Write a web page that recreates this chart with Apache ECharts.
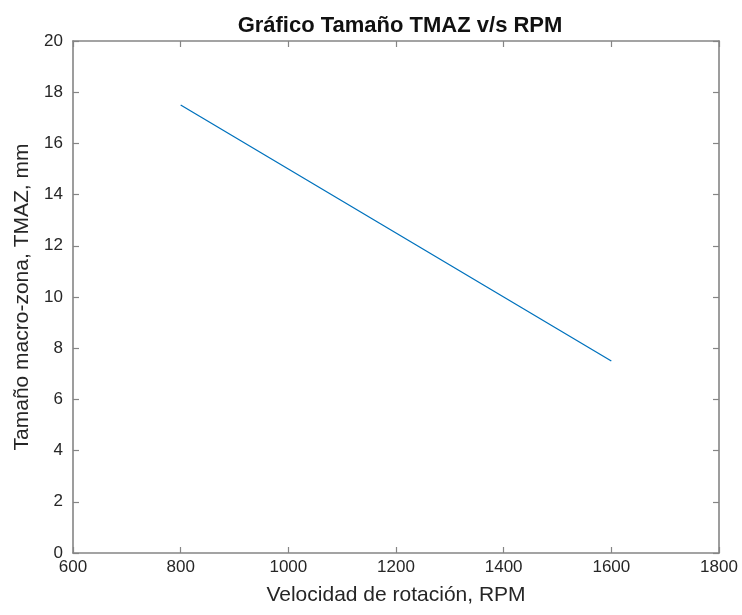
<!DOCTYPE html>
<html><head><meta charset="utf-8">
<script src="https://cdn.jsdelivr.net/npm/echarts@6/dist/echarts.min.js"></script>
<style>html,body{margin:0;padding:0;background:#fff}#c{width:742px;height:615px}</style>
</head><body><div id="c"></div>
<script>
const rpm = [800, 1000, 1200, 1400, 1600];
const tmaz = [17.5, 15, 12.5, 10, 7.5];
const titleText = 'Gráfico Tamaño TMAZ v/s RPM';
const xLabel = 'Velocidad de rotación, RPM';
const yLabel = 'Tamaño macro-zona, TMAZ, mm';

const axisColor = '#858585';
const textColor = '#262626';
const font = 'Liberation Sans, Arial, sans-serif';
const common = {
  axisLine: {show: true, onZero: false, lineStyle: {color: axisColor, width: 1.6}},
  axisTick: {show: true, inside: true, length: 6, lineStyle: {color: axisColor, width: 1.2}},
  splitLine: {show: false}
};
const chart = echarts.init(document.getElementById('c'));
chart.setOption({
  animation: false,
  title: {text: titleText, left: 395, top: 10, textAlign: 'center',
    textStyle: {fontFamily: font, fontSize: 22, fontWeight: 'bold', color: '#111'}},
  grid: {left: 73, right: 23, top: 41, bottom: 62},
  xAxis: [
    Object.assign({type: 'value', min: 600, max: 1800, interval: 200, position: 'bottom',
      name: xLabel, nameLocation: 'middle', nameGap: 32,
      nameTextStyle: {fontFamily: font, fontSize: 21, color: textColor},
      axisLabel: {fontFamily: font, fontSize: 17, color: textColor, margin: 6,
        formatter: v => String(v)}}, common),
    Object.assign({type: 'value', min: 600, max: 1800, interval: 200, position: 'top',
      axisLabel: {show: false}}, common)
  ],
  yAxis: [
    Object.assign({type: 'value', min: 0, max: 20, interval: 2, position: 'left',
      name: yLabel, nameLocation: 'middle', nameGap: 38,
      nameTextStyle: {fontFamily: font, fontSize: 21, color: textColor},
      axisLabel: {fontFamily: font, fontSize: 17, color: textColor, margin: 10,
        formatter: v => String(v)}}, common),
    Object.assign({type: 'value', min: 0, max: 20, interval: 2, position: 'right',
      axisLabel: {show: false}}, common)
  ],
  series: [{
    type: 'line', data: rpm.map((x, i) => [x, tmaz[i]]), showSymbol: false,
    lineStyle: {color: '#0072BD', width: 1.3}, xAxisIndex: 0, yAxisIndex: 0
  }]
});
</script></body></html>
